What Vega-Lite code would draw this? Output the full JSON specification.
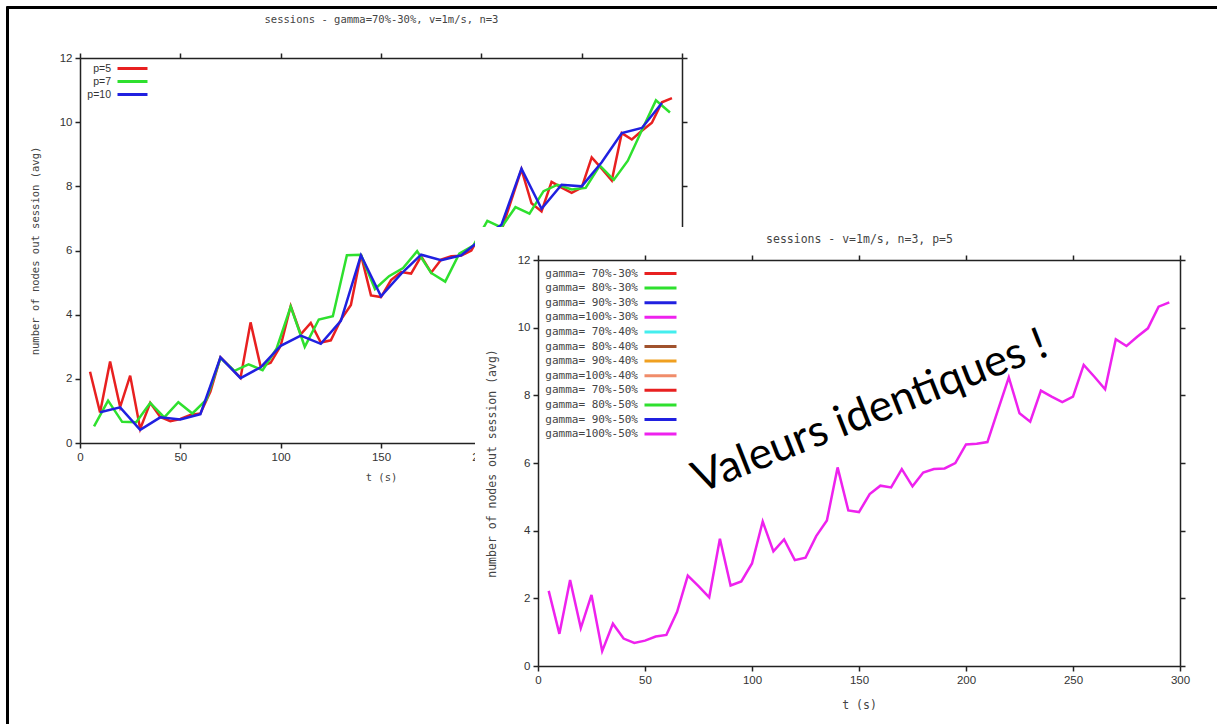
{
  "$schema": "https://vega.github.io/schema/vega-lite/v6.json",
  "padding": 0,
  "background": "white",
  "spacing": 0,
  "bounds": "flush",
  "resolve": {"scale": {"color": "independent"}, "legend": {"color": "independent"}},
  "config": {
    "view": {"stroke": null},
    "axis": {
      "grid": false,
      "domainColor": "#222",
      "domainWidth": 1.5,
      "tickColor": "#222",
      "tickWidth": 1.5,
      "tickSize": 5,
      "labelColor": "#333",
      "labelFont": "Liberation Sans",
      "labelFontSize": 11.5,
      "labelPadding": 3,
      "labelFlush": false,
      "titleFont": "DejaVu Sans Mono",
      "titleFontSize": 10.5,
      "titleFontWeight": "normal",
      "titleColor": "#444"
    },
    "legend": {"padding": 0}
  },
  "datasets": {
    "c1": [
      {"p":"p=5","t":5,"v":2.22},{"p":"p=5","t":10,"v":0.95},{"p":"p=5","t":15,"v":2.54},{"p":"p=5","t":20,"v":1.12},{"p":"p=5","t":25,"v":2.10},{"p":"p=5","t":30,"v":0.44},{"p":"p=5","t":35,"v":1.25},{"p":"p=5","t":40,"v":0.81},{"p":"p=5","t":45,"v":0.68},{"p":"p=5","t":50,"v":0.75},{"p":"p=5","t":55,"v":0.87},{"p":"p=5","t":60,"v":0.92},{"p":"p=5","t":65,"v":1.60},{"p":"p=5","t":70,"v":2.67},{"p":"p=5","t":75,"v":2.36},{"p":"p=5","t":80,"v":2.03},{"p":"p=5","t":85,"v":3.76},{"p":"p=5","t":90,"v":2.38},{"p":"p=5","t":95,"v":2.50},{"p":"p=5","t":100,"v":3.03},{"p":"p=5","t":105,"v":4.27},{"p":"p=5","t":110,"v":3.39},{"p":"p=5","t":115,"v":3.74},{"p":"p=5","t":120,"v":3.13},{"p":"p=5","t":125,"v":3.20},{"p":"p=5","t":130,"v":3.84},{"p":"p=5","t":135,"v":4.30},{"p":"p=5","t":140,"v":5.87},{"p":"p=5","t":145,"v":4.60},{"p":"p=5","t":150,"v":4.55},{"p":"p=5","t":155,"v":5.08},{"p":"p=5","t":160,"v":5.33},{"p":"p=5","t":165,"v":5.28},{"p":"p=5","t":170,"v":5.82},{"p":"p=5","t":175,"v":5.31},{"p":"p=5","t":180,"v":5.72},{"p":"p=5","t":185,"v":5.82},{"p":"p=5","t":190,"v":5.84},{"p":"p=5","t":195,"v":6.00},{"p":"p=5","t":200,"v":6.55},{"p":"p=5","t":205,"v":6.57},{"p":"p=5","t":210,"v":6.62},{"p":"p=5","t":215,"v":7.58},{"p":"p=5","t":220,"v":8.53},{"p":"p=5","t":225,"v":7.47},{"p":"p=5","t":230,"v":7.22},{"p":"p=5","t":235,"v":8.14},{"p":"p=5","t":240,"v":7.96},{"p":"p=5","t":245,"v":7.80},{"p":"p=5","t":250,"v":7.96},{"p":"p=5","t":255,"v":8.90},{"p":"p=5","t":260,"v":8.55},{"p":"p=5","t":265,"v":8.18},{"p":"p=5","t":270,"v":9.66},{"p":"p=5","t":275,"v":9.46},{"p":"p=5","t":280,"v":9.73},{"p":"p=5","t":285,"v":9.98},{"p":"p=5","t":290,"v":10.62},{"p":"p=5","t":295,"v":10.75},
      {"p":"p=7","t":7,"v":0.52},{"p":"p=7","t":14,"v":1.32},{"p":"p=7","t":21,"v":0.66},{"p":"p=7","t":28,"v":0.65},{"p":"p=7","t":35,"v":1.25},{"p":"p=7","t":42,"v":0.80},{"p":"p=7","t":49,"v":1.27},{"p":"p=7","t":56,"v":0.92},{"p":"p=7","t":63,"v":1.35},{"p":"p=7","t":70,"v":2.65},{"p":"p=7","t":77,"v":2.25},{"p":"p=7","t":84,"v":2.45},{"p":"p=7","t":91,"v":2.27},{"p":"p=7","t":98,"v":2.95},{"p":"p=7","t":105,"v":4.25},{"p":"p=7","t":112,"v":3.00},{"p":"p=7","t":119,"v":3.85},{"p":"p=7","t":126,"v":3.95},{"p":"p=7","t":133,"v":5.85},{"p":"p=7","t":140,"v":5.87},{"p":"p=7","t":147,"v":4.80},{"p":"p=7","t":154,"v":5.20},{"p":"p=7","t":161,"v":5.45},{"p":"p=7","t":168,"v":5.98},{"p":"p=7","t":175,"v":5.30},{"p":"p=7","t":182,"v":5.03},{"p":"p=7","t":189,"v":5.90},{"p":"p=7","t":196,"v":6.15},{"p":"p=7","t":203,"v":6.92},{"p":"p=7","t":210,"v":6.72},{"p":"p=7","t":217,"v":7.35},{"p":"p=7","t":224,"v":7.15},{"p":"p=7","t":231,"v":7.85},{"p":"p=7","t":238,"v":8.05},{"p":"p=7","t":245,"v":7.90},{"p":"p=7","t":252,"v":7.95},{"p":"p=7","t":259,"v":8.65},{"p":"p=7","t":266,"v":8.20},{"p":"p=7","t":273,"v":8.80},{"p":"p=7","t":280,"v":9.75},{"p":"p=7","t":287,"v":10.68},{"p":"p=7","t":294,"v":10.30},
      {"p":"p=10","t":10,"v":0.96},{"p":"p=10","t":20,"v":1.11},{"p":"p=10","t":30,"v":0.41},{"p":"p=10","t":40,"v":0.80},{"p":"p=10","t":50,"v":0.73},{"p":"p=10","t":60,"v":0.90},{"p":"p=10","t":70,"v":2.67},{"p":"p=10","t":80,"v":2.02},{"p":"p=10","t":90,"v":2.36},{"p":"p=10","t":100,"v":3.03},{"p":"p=10","t":110,"v":3.35},{"p":"p=10","t":120,"v":3.09},{"p":"p=10","t":130,"v":3.81},{"p":"p=10","t":140,"v":5.85},{"p":"p=10","t":150,"v":4.57},{"p":"p=10","t":160,"v":5.27},{"p":"p=10","t":170,"v":5.87},{"p":"p=10","t":180,"v":5.70},{"p":"p=10","t":190,"v":5.85},{"p":"p=10","t":200,"v":6.35},{"p":"p=10","t":210,"v":6.80},{"p":"p=10","t":220,"v":8.55},{"p":"p=10","t":230,"v":7.30},{"p":"p=10","t":240,"v":8.05},{"p":"p=10","t":250,"v":8.00},{"p":"p=10","t":260,"v":8.75},{"p":"p=10","t":270,"v":9.66},{"p":"p=10","t":280,"v":9.82},{"p":"p=10","t":290,"v":10.60}
    ],
    "c2": [
      {"g":"gamma=100%-50%","t":5,"v":2.22},{"g":"gamma=100%-50%","t":10,"v":0.95},{"g":"gamma=100%-50%","t":15,"v":2.54},{"g":"gamma=100%-50%","t":20,"v":1.12},{"g":"gamma=100%-50%","t":25,"v":2.10},{"g":"gamma=100%-50%","t":30,"v":0.44},{"g":"gamma=100%-50%","t":35,"v":1.25},{"g":"gamma=100%-50%","t":40,"v":0.81},{"g":"gamma=100%-50%","t":45,"v":0.68},{"g":"gamma=100%-50%","t":50,"v":0.75},{"g":"gamma=100%-50%","t":55,"v":0.87},{"g":"gamma=100%-50%","t":60,"v":0.92},{"g":"gamma=100%-50%","t":65,"v":1.60},{"g":"gamma=100%-50%","t":70,"v":2.67},{"g":"gamma=100%-50%","t":75,"v":2.36},{"g":"gamma=100%-50%","t":80,"v":2.03},{"g":"gamma=100%-50%","t":85,"v":3.76},{"g":"gamma=100%-50%","t":90,"v":2.38},{"g":"gamma=100%-50%","t":95,"v":2.50},{"g":"gamma=100%-50%","t":100,"v":3.03},{"g":"gamma=100%-50%","t":105,"v":4.27},{"g":"gamma=100%-50%","t":110,"v":3.39},{"g":"gamma=100%-50%","t":115,"v":3.74},{"g":"gamma=100%-50%","t":120,"v":3.13},{"g":"gamma=100%-50%","t":125,"v":3.20},{"g":"gamma=100%-50%","t":130,"v":3.84},{"g":"gamma=100%-50%","t":135,"v":4.30},{"g":"gamma=100%-50%","t":140,"v":5.87},{"g":"gamma=100%-50%","t":145,"v":4.60},{"g":"gamma=100%-50%","t":150,"v":4.55},{"g":"gamma=100%-50%","t":155,"v":5.08},{"g":"gamma=100%-50%","t":160,"v":5.33},{"g":"gamma=100%-50%","t":165,"v":5.28},{"g":"gamma=100%-50%","t":170,"v":5.82},{"g":"gamma=100%-50%","t":175,"v":5.31},{"g":"gamma=100%-50%","t":180,"v":5.72},{"g":"gamma=100%-50%","t":185,"v":5.82},{"g":"gamma=100%-50%","t":190,"v":5.84},{"g":"gamma=100%-50%","t":195,"v":6.00},{"g":"gamma=100%-50%","t":200,"v":6.55},{"g":"gamma=100%-50%","t":205,"v":6.57},{"g":"gamma=100%-50%","t":210,"v":6.62},{"g":"gamma=100%-50%","t":215,"v":7.58},{"g":"gamma=100%-50%","t":220,"v":8.53},{"g":"gamma=100%-50%","t":225,"v":7.47},{"g":"gamma=100%-50%","t":230,"v":7.22},{"g":"gamma=100%-50%","t":235,"v":8.14},{"g":"gamma=100%-50%","t":240,"v":7.96},{"g":"gamma=100%-50%","t":245,"v":7.80},{"g":"gamma=100%-50%","t":250,"v":7.96},{"g":"gamma=100%-50%","t":255,"v":8.90},{"g":"gamma=100%-50%","t":260,"v":8.55},{"g":"gamma=100%-50%","t":265,"v":8.18},{"g":"gamma=100%-50%","t":270,"v":9.66},{"g":"gamma=100%-50%","t":275,"v":9.46},{"g":"gamma=100%-50%","t":280,"v":9.73},{"g":"gamma=100%-50%","t":285,"v":9.98},{"g":"gamma=100%-50%","t":290,"v":10.62},{"g":"gamma=100%-50%","t":295,"v":10.75}
    ]
  },
  "hconcat": [
    {
      "width": 475,
      "height": 724,
      "layer": [
        {
          "data": {"name": "c1"},
          "mark": {"type": "line", "strokeWidth": 2.5, "clip": false},
          "encoding": {
            "x": {"field": "t", "type": "quantitative",
              "scale": {"domain": [0, 300], "range": [80, 682], "nice": false, "zero": false},
              "axis": {"orient": "bottom", "offset": -281, "values": [0, 50, 100, 150, 200, 250, 300], "title": "t (s)", "titlePadding": 10}},
            "y": {"field": "v", "type": "quantitative",
              "scale": {"domain": [0, 12], "range": [443, 58], "nice": false, "zero": false},
              "axis": {"orient": "left", "offset": -80, "values": [0, 2, 4, 6, 8, 10, 12], "title": "number of nodes out session (avg)", "titlePadding": 19}},
            "color": {"field": "p", "type": "nominal",
              "scale": {"domain": ["p=5", "p=7", "p=10"], "range": ["#e82020", "#2ee02e", "#2020e0"]},
              "legend": {"orient": "none", "legendX": 127, "legendY": 63, "title": null, "symbolType": "M-3.75,0L3.75,0", "symbolSize": 64, "symbolStrokeWidth": 3, "labelAlign": "right", "labelOffset": -27, "labelFont": "Liberation Sans", "labelFontSize": 10.5, "labelColor": "#333", "rowPadding": 0, "labelBaseline": "middle"}}
          }
        },
        {
          "data": {"values": []},
          "mark": {"type": "point", "opacity": 0},
          "encoding": {
            "x": {"field": "t", "type": "quantitative",
              "scale": {"domain": [0, 300], "range": [80, 682], "nice": false, "zero": false},
              "axis": {"orient": "top", "offset": -58, "labels": false, "values": [0, 50, 100, 150, 200, 250, 300], "title": "sessions - gamma=70%-30%, v=1m/s, n=3", "titlePadding": 28}},
            "y": {"field": "v", "type": "quantitative",
              "scale": {"domain": [0, 12], "range": [443, 58], "nice": false, "zero": false},
              "axis": {"orient": "right", "offset": 207, "labels": false, "values": [0, 2, 4, 6, 8, 10, 12], "title": null}}
          }
        },
        {
          "data": {"values": []},
          "mark": {"type": "point", "opacity": 0},
          "encoding": {
            "x": {"field": "t", "type": "quantitative",
              "scale": {"domain": [0, 1], "range": [6, 1217], "nice": false, "zero": false},
              "axis": {"orient": "top", "offset": -7, "labels": false, "ticks": false, "values": [], "title": null, "domainColor": "#000", "domainWidth": 3}},
            "y": {"field": "v", "type": "quantitative",
              "scale": {"domain": [0, 1], "range": [6, 724], "nice": false, "zero": false},
              "axis": {"orient": "left", "offset": -7, "labels": false, "ticks": false, "values": [], "title": null, "domainColor": "#000", "domainWidth": 3}}
          }
        }
      ],
      "resolve": {"scale": {"x": "independent", "y": "independent"}, "axis": {"x": "independent", "y": "independent"}}
    },
    {
      "spacing": 0,
      "bounds": "flush",
      "resolve": {"scale": {"color": "independent"}, "legend": {"color": "independent"}},
      "vconcat": [
        {
          "width": 742,
          "height": 227,
          "data": {"values": [{"a": 0}]},
          "mark": {"type": "point", "opacity": 0},
          "encoding": {}
        },
        {
          "width": 742,
          "height": 497,
          "view": {"fill": "white", "stroke": null},
          "layer": [
            {
              "data": {"name": "c2"},
              "mark": {"type": "line", "strokeWidth": 2.5, "clip": false},
              "encoding": {
                "x": {"field": "t", "type": "quantitative",
                  "scale": {"domain": [0, 300], "range": [63, 705], "nice": false, "zero": false},
                  "axis": {"orient": "bottom", "offset": -58, "values": [0, 50, 100, 150, 200, 250, 300], "title": "t (s)", "titlePadding": 14, "titleFontSize": 11.5}},
                "y": {"field": "v", "type": "quantitative",
                  "scale": {"domain": [0, 12], "range": [439, 33], "nice": false, "zero": false},
                  "axis": {"orient": "left", "offset": -63, "values": [0, 2, 4, 6, 8, 10, 12], "title": "number of nodes out session (avg)", "titlePadding": 20, "titleFontSize": 11.5}},
                "color": {"field": "g", "type": "nominal",
                  "scale": {
                    "domain": ["gamma= 70%-30%", "gamma= 80%-30%", "gamma= 90%-30%", "gamma=100%-30%", "gamma= 70%-40%", "gamma= 80%-40%", "gamma= 90%-40%", "gamma=100%-40%", "gamma= 70%-50%", "gamma= 80%-50%", "gamma= 90%-50%", "gamma=100%-50%"],
                    "range": ["#e82020", "#2ee02e", "#2020e0", "#ee22ee", "#44eeee", "#a0522d", "#f0a020", "#f08c6a", "#e82020", "#2ee02e", "#2020e0", "#ee22ee"]},
                  "legend": {"orient": "none", "legendX": 179, "legendY": 40, "title": null, "symbolType": "M-3.2,0L3.2,0", "symbolSize": 100, "symbolStrokeWidth": 3, "labelAlign": "right", "labelOffset": -29, "labelFont": "DejaVu Sans Mono", "labelFontSize": 11, "labelColor": "#444", "rowPadding": 1.6, "labelBaseline": "middle"}}
              }
            },
            {
              "data": {"values": []},
              "mark": {"type": "point", "opacity": 0},
              "encoding": {
                "x": {"field": "t", "type": "quantitative",
                  "scale": {"domain": [0, 300], "range": [63, 705], "nice": false, "zero": false},
                  "axis": {"orient": "top", "offset": -33, "labels": false, "values": [0, 50, 100, 150, 200, 250, 300], "title": "sessions - v=1m/s, n=3, p=5", "titlePadding": 10, "titleFontSize": 11.5}},
                "y": {"field": "v", "type": "quantitative",
                  "scale": {"domain": [0, 12], "range": [439, 33], "nice": false, "zero": false},
                  "axis": {"orient": "right", "offset": -37, "labels": false, "values": [0, 2, 4, 6, 8, 10, 12], "title": null}}
              }
            },
            {
              "data": {"values": [{"t": 155.2, "v": 7.5, "label": "Valeurs identiques !"}]},
              "mark": {"type": "text", "font": "Lato", "fontSize": 44, "angle": -21.5, "align": "center", "baseline": "middle", "color": "black"},
              "encoding": {
                "x": {"field": "t", "type": "quantitative", "scale": {"domain": [0, 300], "range": [63, 705], "nice": false, "zero": false}, "axis": null},
                "y": {"field": "v", "type": "quantitative", "scale": {"domain": [0, 12], "range": [439, 33], "nice": false, "zero": false}, "axis": null},
                "text": {"field": "label"}
              }
            }
          ],
          "resolve": {"axis": {"x": "independent", "y": "independent"}}
        }
      ]
    }
  ]
}
